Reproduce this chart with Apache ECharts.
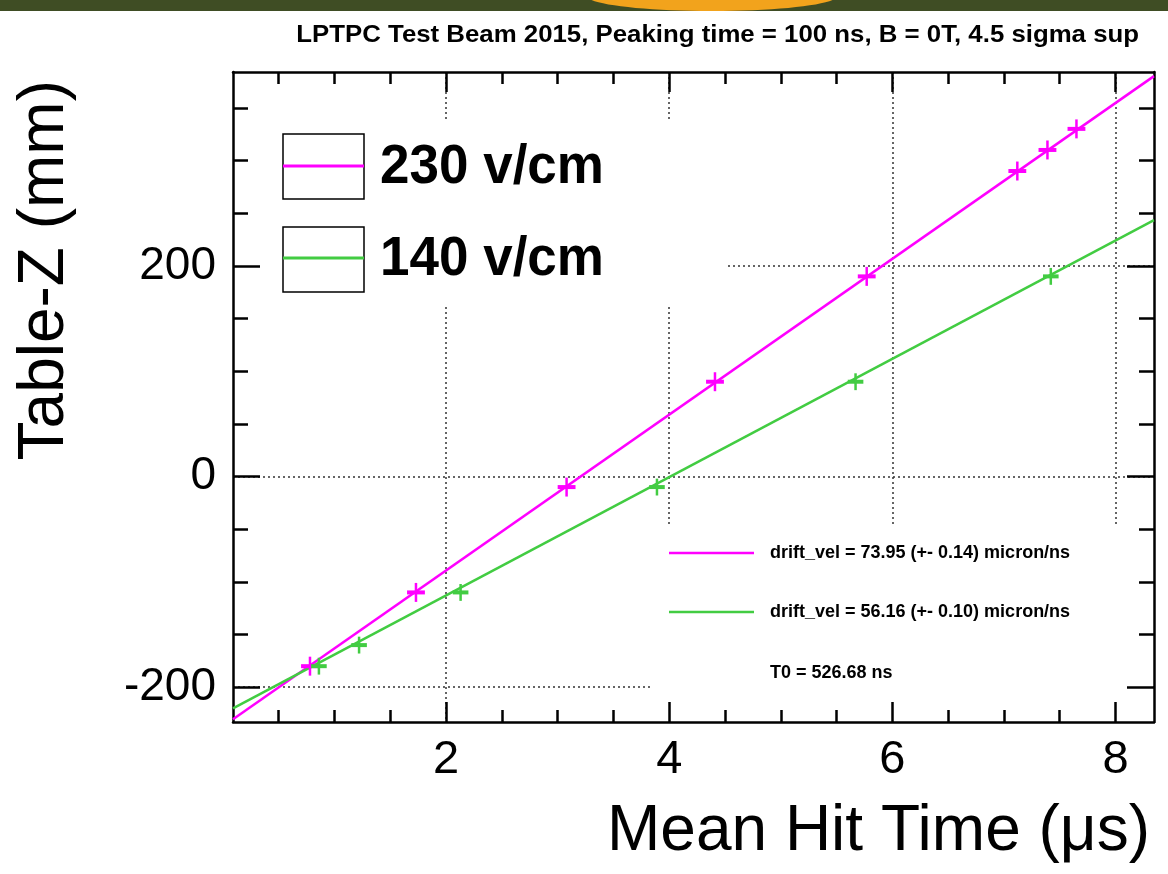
<!DOCTYPE html>
<html>
<head>
<meta charset="utf-8">
<script src="https://cdn.jsdelivr.net/npm/echarts@6/dist/echarts.min.js"></script>
<style>
  html, body { margin: 0; padding: 0; background: #ffffff; }
  #chart { width: 1168px; height: 874px; }
</style>
</head>
<body>
<div id="chart"></div>
<script>
// ---- data -------------------------------------------------------------
const seriesNames = ['230 v/cm', '140 v/cm'];

// 230 V/cm drift field
const hitTime230 = [0.78, 1.73, 3.08, 4.41, 5.77, 7.12, 7.39, 7.65];
const tableZ230  = [-180, -110, -10, 90, 190, 290, 310, 330];
const timeErr230 = [0.08, 0.08, 0.08, 0.08, 0.08, 0.08, 0.08, 0.08];
const zErr230    = [9, 9, 9, 9, 9, 9, 9, 9];

// 140 V/cm drift field
const hitTime140 = [0.86, 1.22, 2.13, 3.89, 5.67, 7.42];
const tableZ140  = [-180, -160, -110, -10, 90, 190];
const timeErr140 = [0.07, 0.07, 0.07, 0.07, 0.07, 0.07];
const zErr140    = [8, 8, 8, 8, 8, 8];

// linear fit results: slope (micron/ns == mm/us) and zero-crossing time (us)
const driftVel    = [73.95, 56.16];
const driftVelErr = ['0.14', '0.10'];
const zeroTime    = [3.205, 4.01];
const fitT0       = 526.68;

// axis ticks
const xRange = [0.09, 8.345];
const yRange = [-233, 384];
const xMajor = [2, 4, 6, 8];
const xMinor = [0.5, 1, 1.5, 2.5, 3, 3.5, 4.5, 5, 5.5, 6.5, 7, 7.5];
const yMajor = [-200, 0, 200];
const yMinor = [-150, -100, -50, 50, 100, 150, 250, 300, 350];

const titleText = 'LPTPC Test Beam 2015, Peaking time = 100 ns, B = 0T, 4.5 sigma sup';
const xTitle = 'Mean Hit Time (\u03bcs)';
const yTitle = 'Table-Z (mm)';

const colors = ['#ff00ff', '#42cc42'];

// ---- helpers ----------------------------------------------------------
const FONT = "'Liberation Sans', Arial, Helvetica, sans-serif";

function tickAxis(kind, position, ticks, len, extra) {
  const range = kind === 'x' ? xRange : yRange;
  return Object.assign({
    type: 'value', position: position, min: range[0], max: range[1], z: 3,
    axisLine: { show: true, onZero: false, lineStyle: { color: '#000', width: 2.5 } },
    axisTick: { show: true, inside: true, length: len, customValues: ticks,
                lineStyle: { color: '#000', width: 2.5 } },
    axisLabel: { show: false },
    splitLine: { show: false }
  }, extra || {});
}

function gridAxis(kind, ticks) {
  const range = kind === 'x' ? xRange : yRange;
  return {
    type: 'value', position: kind === 'x' ? 'bottom' : 'left',
    min: range[0], max: range[1], z: 0,
    axisLine: { show: false, onZero: false },
    axisTick: { show: false, customValues: ticks },
    axisLabel: { show: false },
    splitLine: { show: true, lineStyle: { color: '#333', width: 1.5, type: [2, 3] } }
  };
}

function errorSeries(name, xs, ys, xe, ye, color) {
  return {
    name: name, type: 'custom', xAxisIndex: 0, yAxisIndex: 0, z: 5,
    data: xs.map((x, i) => [x, ys[i], xe[i], ye[i]]),
    encode: { x: 0, y: 1 },
    renderItem: function (params, api) {
      const x = api.value(0), y = api.value(1), dx = api.value(2), dy = api.value(3);
      const l = api.coord([x - dx, y]), r = api.coord([x + dx, y]);
      const t = api.coord([x, y + dy]), b = api.coord([x, y - dy]);
      return {
        type: 'group',
        children: [
          { type: 'line', shape: { x1: l[0], y1: l[1], x2: r[0], y2: r[1] },
            style: { stroke: color, lineWidth: 4 } },
          { type: 'line', shape: { x1: b[0], y1: b[1], x2: t[0], y2: t[1] },
            style: { stroke: color, lineWidth: 2.5 } }
        ]
      };
    }
  };
}

function fitSeries(name, k) {
  const pts = xRange.map(t => [t, driftVel[k] * (t - zeroTime[k])]);
  return {
    name: name + ' fit', type: 'line', xAxisIndex: 0, yAxisIndex: 0, z: 4,
    data: pts, showSymbol: false, clip: true,
    lineStyle: { color: colors[k], width: 2.5 }
  };
}

// ---- chart ------------------------------------------------------------
const chart = echarts.init(document.getElementById('chart'), null, { renderer: 'canvas' });

const legendItems = [];
[[134, 166], [227, 258]].forEach((p, k) => {
  legendItems.push(
    { type: 'rect', z: 6, shape: { x: 283, y: p[0], width: 81, height: 65 },
      style: { fill: 'none', stroke: '#000', lineWidth: 1.5 } },
    { type: 'line', z: 6, shape: { x1: 283, y1: p[1], x2: 364, y2: p[1] },
      style: { stroke: colors[k], lineWidth: 3 } },
    { type: 'text', z: 6, x: 380, y: p[1] + 2, scaleY: 1.05,
      style: { text: seriesNames[k], font: 'bold 53px ' + FONT, fill: '#000',
               textAlign: 'left', textVerticalAlign: 'middle' } }
  );
});

const paveItems = [];
[553, 612].forEach((yy, k) => {
  paveItems.push(
    { type: 'line', z: 6, shape: { x1: 669, y1: yy, x2: 754, y2: yy },
      style: { stroke: colors[k], lineWidth: 2.5 } },
    { type: 'text', z: 6, x: 770, y: yy,
      style: { text: 'drift_vel = ' + driftVel[k].toFixed(2) + ' (+- ' + driftVelErr[k] + ') micron/ns',
               font: 'bold 18px ' + FONT, fill: '#000',
               textAlign: 'left', textVerticalAlign: 'middle' } }
  );
});
paveItems.push({ type: 'text', z: 6, x: 770, y: 673,
  style: { text: 'T0 = ' + fitT0.toFixed(2) + ' ns', font: 'bold 18px ' + FONT, fill: '#000',
           textAlign: 'left', textVerticalAlign: 'middle' } });

chart.setOption({
  animation: false,
  backgroundColor: '#ffffff',
  grid: { left: 233, right: 14, top: 72, bottom: 152, containLabel: false },
  xAxis: [
    tickAxis('x', 'bottom', xMajor, 20, {
      axisLabel: { show: true, customValues: xMajor, margin: 15, color: '#000',
                   fontSize: 47, fontFamily: FONT }
    }),
    tickAxis('x', 'bottom', xMinor, 12, { axisLine: { show: false, onZero: false } }),
    tickAxis('x', 'top', xMajor, 20),
    tickAxis('x', 'top', xMinor, 12, { axisLine: { show: false, onZero: false } }),
    gridAxis('x', xMajor)
  ],
  yAxis: [
    tickAxis('y', 'left', yMajor, 27, {
      axisLabel: { show: true, customValues: yMajor, margin: 17, color: '#000',
                   fontSize: 46, fontFamily: FONT }
    }),
    tickAxis('y', 'left', yMinor, 15, { axisLine: { show: false, onZero: false } }),
    tickAxis('y', 'right', yMajor, 27),
    tickAxis('y', 'right', yMinor, 15, { axisLine: { show: false, onZero: false } }),
    gridAxis('y', yMajor)
  ],
  series: [
    fitSeries(seriesNames[0], 0),
    fitSeries(seriesNames[1], 1),
    errorSeries(seriesNames[0], hitTime230, tableZ230, timeErr230, zErr230, colors[0]),
    errorSeries(seriesNames[1], hitTime140, tableZ140, timeErr140, zErr140, colors[1])
  ],
  graphic: [
    // slide header strip
    { type: 'rect', z: 1, shape: { x: 0, y: 0, width: 1168, height: 11 },
      style: { fill: '#3f4d24' } },
    { type: 'ellipse', z: 2, shape: { cx: 712, cy: -4, rx: 125, ry: 15 },
      style: { fill: '#f2a31c' } },
    // legend and fit-result panels mask the grid behind them
    { type: 'rect', z: 1, shape: { x: 234, y: 119, width: 494, height: 187 },
      style: { fill: '#ffffff' } },
    { type: 'rect', z: 1, shape: { x: 651, y: 524, width: 502, height: 197 },
      style: { fill: '#ffffff' } },
    ...legendItems,
    ...paveItems,
    { type: 'text', z: 6, x: 1139, y: 35, scaleX: 1.075, originX: 0,
      style: { text: titleText, font: 'bold 24px ' + FONT, fill: '#000',
               textAlign: 'right', textVerticalAlign: 'middle' } },
    { type: 'text', z: 6, x: 1150, y: 832,
      style: { text: xTitle, font: '64px ' + FONT, fill: '#000',
               textAlign: 'right', textVerticalAlign: 'middle' } },
    { type: 'text', z: 6, x: 45, y: 80, rotation: Math.PI / 2,
      style: { text: yTitle, font: '64px ' + FONT, fill: '#000',
               textAlign: 'right', textVerticalAlign: 'middle' } }
  ]
});
</script>
</body>
</html>
